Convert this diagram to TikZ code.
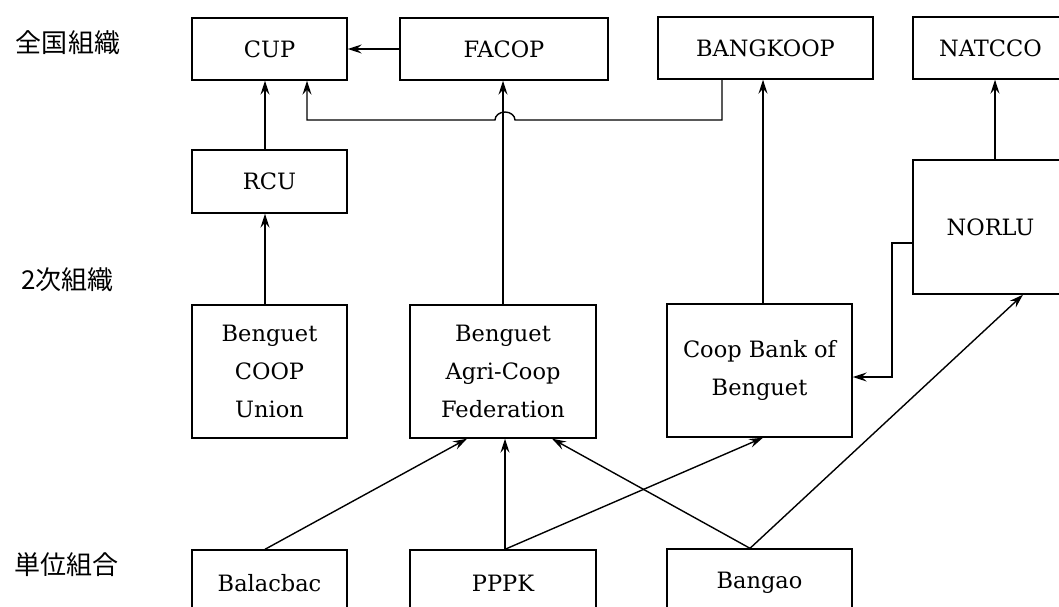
\documentclass[tikz,border=0pt]{standalone}
\usepackage{fontspec}
\newfontfamily\cjk{Noto Sans CJK JP}
\newfontfamily\boxfont{DejaVu Serif}
\usetikzlibrary{arrows.meta}
\begin{document}
\begin{tikzpicture}[x=1pt,y=-1pt,
  box/.style={draw,line width=1.4pt,inner sep=0pt,align=center,font=\boxfont\fontsize{22.5}{38}\selectfont},
  conn/.style={line width=1.4pt},
  arr/.style={conn,-{Stealth[length=14pt,width=9pt,inset=5pt]}},
  lab/.style={font=\cjk\fontsize{26}{30}\selectfont}]
\path[use as bounding box] (0,0) rectangle (1059,607);
\clip (0,0) rectangle (1059,607);
% level labels
\node[lab] (L1) at (68,43) {全国組織};
\node[lab] (L2) at (67.5,280) {2次組織};
\node[lab] (L3) at (66,565) {単位組合};
% national
\node[box,minimum width=155pt,minimum height=62pt] (CUP) at (269.5,49) {CUP};
\node[box,minimum width=208pt,minimum height=62pt] (FACOP) at (504,49) {FACOP};
\node[box,minimum width=215pt,minimum height=62pt] (BANGKOOP) at (765.5,48) {BANGKOOP};
\node[box,minimum width=155pt,minimum height=62pt] (NATCCO) at (990.5,48) {NATCCO};
% secondary
\node[box,minimum width=155pt,minimum height=63pt] (RCU) at (269.5,181.5) {RCU};
\node[box,minimum width=155pt,minimum height=134pt] (NORLU) at (990.5,227) {NORLU};
\node[box,minimum width=155pt,minimum height=133pt] (UNION) at (269.5,371.5) {Benguet\\COOP\\Union};
\node[box,minimum width=186pt,minimum height=133pt] (FED) at (503,371.5) {Benguet\\Agri-Coop\\Federation};
\node[box,minimum width=185pt,minimum height=133pt] (BANK) at (759.5,370.5) {Coop Bank of\\Benguet};
% primary
\node[box,minimum width=155pt,minimum height=66pt] (BAL) at (269.5,583) {Balacbac};
\node[box,minimum width=186pt,minimum height=66pt] (PPPK) at (503,583) {PPPK};
\node[box,minimum width=185pt,minimum height=67pt] (BANGAO) at (759.5,582.5) {Bangao};
% connectors
\draw[arr] (FACOP.west) -- (CUP.east);
\draw[arr] ([xshift=-4.5pt]RCU.north) -- ([xshift=-4.5pt]CUP.south);
\draw[arr] ([xshift=-4.5pt]UNION.north) -- ([xshift=-4.5pt]RCU.south);
\coordinate (k1) at (722,120);
\coordinate (hopR) at (515,120);
\coordinate (k2) at (307,120);
\draw[arr] (k1 |- BANGKOOP.south) -- (k1) -- (hopR)
  arc[start angle=0,end angle=180,x radius=10pt,y radius=8pt] -- (k2) -- (k2 |- CUP.south);
\draw[arr] (FED.north) -- (FED.north |- FACOP.south);
\draw[arr] ([xshift=3.5pt]BANK.north) -- ([xshift=3.5pt]BANK.north |- BANGKOOP.south);
\draw[arr] ([xshift=4.5pt]NORLU.north) -- ([xshift=4.5pt]NORLU.north |- NATCCO.south);
\coordinate (n1) at (892,243);
\coordinate (n2) at (892,377);
\draw[arr] (NORLU.west |- n1) -- (n1) -- (n2) -- (BANK.east |- n2);
\draw[arr] ([xshift=-4.5pt]BAL.north) -- ([xshift=-36pt]FED.south);
\draw[arr] ([xshift=2pt]PPPK.north) -- ([xshift=2pt]FED.south);
\draw[arr] ([xshift=2pt]PPPK.north) -- ([xshift=3.5pt]BANK.south);
\draw[arr] ([xshift=-9.5pt]BANGAO.north) -- ([xshift=49pt]FED.south);
\draw[arr] ([xshift=-9.5pt]BANGAO.north) -- ([xshift=32.5pt]NORLU.south);
\end{tikzpicture}
\end{document}
